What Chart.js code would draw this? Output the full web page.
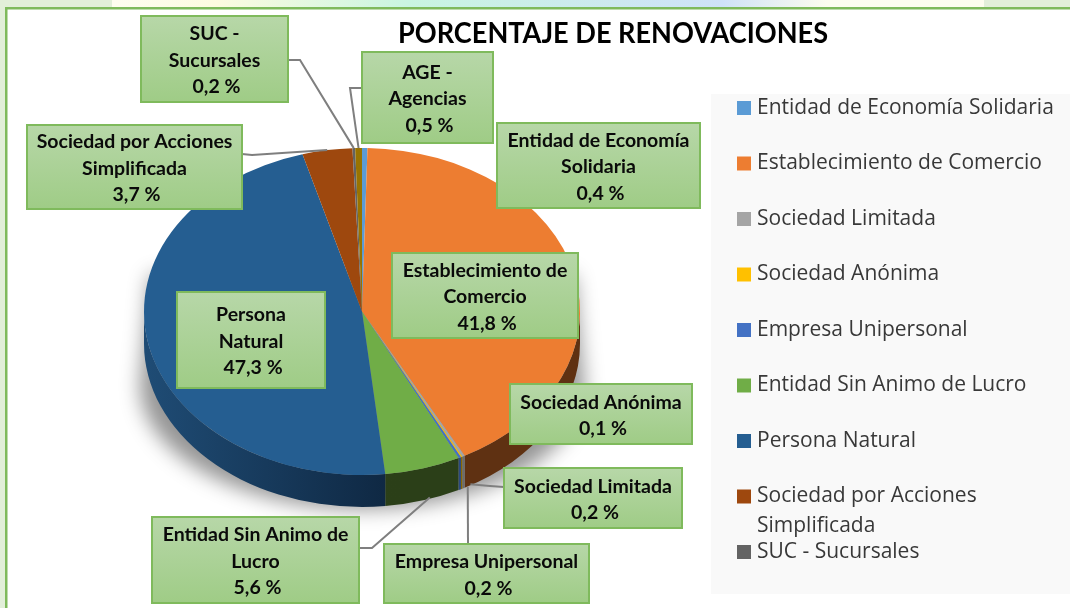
<!DOCTYPE html>
<html>
<head>
<meta charset="utf-8">
<style>html,body{margin:0;padding:0;background:#fff;overflow:hidden}#wrap{width:1070px;height:608px;position:relative}</style>
<script src="https://cdn.jsdelivr.net/npm/chart.js@4/dist/chart.umd.min.js"></script>
</head>
<body>
<div id="wrap"><canvas id="c" width="1070" height="608"></canvas></div>
<script>
const chartTitle = "PORCENTAJE DE RENOVACIONES";
const categories = ["Entidad de Economía Solidaria","Establecimiento de Comercio","Sociedad Limitada","Sociedad Anónima","Empresa Unipersonal","Entidad Sin Animo de Lucro","Persona Natural","Sociedad por Acciones Simplificada","SUC - Sucursales","AGE - Agencias"];
const values = [0.4,41.8,0.2,0.1,0.2,5.6,47.3,3.7,0.2,0.5];
const sliceColors = ["#5b9bd5","#ed7d31","#a5a5a5","#ffc000","#4472c4","#70ad47","#255e91","#9e480e","#636363","#997300"];
const wallLeft  = ["#3a638a","#5f3112","#6a6a6a","#8a6800","#2c4a80","#2e4219","#1f4c75","#5a2a08","#404040","#5c4500"];
const wallRight = ["#3a638a","#5f3112","#6a6a6a","#8a6800","#2c4a80","#2b3f18","#0e2640","#5a2a08","#404040","#5c4500"];
const calloutLines = [["Entidad de Economía","Solidaria"],["Establecimiento de","Comercio"],["Sociedad Limitada"],["Sociedad Anónima"],["Empresa Unipersonal"],["Entidad Sin Animo de","Lucro"],["Persona","Natural"],["Sociedad por Acciones","Simplificada"],["SUC -","Sucursales"],["AGE -","Agencias"]];
const calloutBoxes = [[497,123,203,85],[392,253,186,85],[504,468,178,60],[510,384,182,60],[384,544,205,59],[152,517,207,86],[177,292,148,96],[27,125,215,84],[141,16,147,86],[362,52,131,91]];
// leader paths: box anchor, elbow, then offset from slice rim
const leaderPaths = {2:[[504,487],[490,486],[7,28]],4:[[468,544],[468,544],[8,29]],5:[[359,548],[372,548],[7,29]],7:[[242,154],[252,155],[0,0]],8:[[288,60],[300,60],[0,0]],9:[[362,88],[350,88],[0,0]]};

const CX=362, RX=218, CY=311.5, RY=163.5, DEPTH=32, KY=RY/RX;

const plugin3d = {
  id:'plugin3d',
  afterLayout(chart){
    chart.chartArea = {left:CX-RX,right:CX+RX,top:CY-RX,bottom:CY+RX,width:2*RX,height:2*RX};
    const t = chart.titleBlock;
    t.left=398; t.right=828; t.top=34-t.options.font.size*0.6; t.bottom=t.top+40;
    const l = chart.legend;
    l.left=707; l.right=1070; l.top=63; l.bottom=608; l.width=363; l.height=545;
  },
  beforeDraw(chart){
    const c=chart.ctx;
    c.save();
    c.fillStyle='#fff'; c.fillRect(0,0,1070,608);
    c.fillStyle='#e2efd9'; c.fillRect(0,0,5,608);
    const g=c.createLinearGradient(112,0,984,0);
    g.addColorStop(0,'#fefdf0'); g.addColorStop(0.12,'#fdfbe0'); g.addColorStop(0.34,'#c9f5e1'); g.addColorStop(0.7,'#cfe2f8'); g.addColorStop(0.82,'#fdfdf0'); g.addColorStop(1,'#fdfdee');
    c.fillStyle='#e2efd9'; c.fillRect(0,0,1070,7);
    c.fillStyle=g; c.fillRect(112,0,872,7);
    c.fillStyle='#7fba5c'; c.fillRect(5,7,1065,2.5); c.fillRect(5,7,2.5,601);
    c.fillStyle='#f9f9f9'; c.fillRect(711,94,359,500);
    c.restore();
  },
  beforeDatasetsDraw(chart){
    const c=chart.ctx, arcs=chart.getDatasetMeta(0).data;
    // soft ground shadow only (shape itself is off canvas), tapering towards the top of the pie
    c.save();
    const off=3000;
    c.shadowColor='rgba(0,0,0,0.42)'; c.shadowBlur=20; c.shadowOffsetX=off;
    c.fillStyle='#000';
    c.beginPath();
    c.moveTo(CX-off-212,275);
    c.lineTo(CX-off-222,385);
    c.ellipse(CX-off,385,222,124,0,Math.PI,0,true);
    c.lineTo(CX-off+212,275);
    c.closePath(); c.fill();
    c.restore();
    // side wall, lower half only
    arcs.forEach((a,i)=>{
      const s=Math.max(a.startAngle,0), e=Math.min(a.endAngle,Math.PI);
      if(e<=s) return;
      const g=c.createLinearGradient(CX-RX,0,CX+40,0);
      g.addColorStop(0,wallLeft[i]); g.addColorStop(1,wallRight[i]);
      c.fillStyle=g;
      c.beginPath();
      c.ellipse(CX,CY,RX,RY,0,s,e);
      c.ellipse(CX,CY+DEPTH,RX,RY,0,e,s,true);
      c.closePath(); c.fill();
    });
    c.save();
    c.translate(CX,CY); c.scale(1,KY); c.translate(-CX,-CY);
  },
  afterDatasetsDraw(chart){
    const c=chart.ctx, arcs=chart.getDatasetMeta(0).data;
    c.restore();
    // leaders
    c.save();
    c.strokeStyle='#7f7f7f'; c.lineWidth=2;
    Object.keys(leaderPaths).forEach(k=>{
      const p=leaderPaths[k], a=arcs[k], m=(a.startAngle+a.endAngle)/2;
      const ex=CX+RX*Math.cos(m)+p[2][0], ey=CY+RY*Math.sin(m)+p[2][1];
      c.beginPath(); c.moveTo(p[0][0],p[0][1]); c.lineTo(p[1][0],p[1][1]); c.lineTo(ex,ey); c.stroke();
    });
    // callout boxes
    calloutBoxes.forEach((b,i)=>{
      const [x,y,w,h]=b;
      const g=c.createLinearGradient(0,y,0,y+h);
      g.addColorStop(0,'#b7d7a8'); g.addColorStop(1,'#9fcc86');
      c.fillStyle=g; c.fillRect(x,y,w,h);
      c.strokeStyle='#7fba5c'; c.lineWidth=2; c.strokeRect(x,y,w,h);
      const lines=calloutLines[i].concat([values[i].toFixed(1).replace('.',',')+' %']);
      c.fillStyle='#0a0a0a'; c.font='bold 19.5px Lato'; c.textAlign='center'; c.textBaseline='middle';
      const lh=26.5, top=y+h/2-lh*(lines.length-1)/2+1.5;
      lines.forEach((t,j)=>c.fillText(t,x+w/2+(j==lines.length-1?2:0),top+j*lh));
    });
    c.restore();
  },
  afterDraw(chart){
    const c=chart.ctx;
    c.save();
    c.fillStyle='#383838'; c.font=chart.options.plugins.legend.labels.font.size+'px "Open Sans"';
    c.textBaseline='middle'; c.textAlign='left';
    c.fillText('Simplificada',757,526);
    c.restore();
  }
};

new Chart(document.getElementById('c'),{
  type:'pie',
  data:{labels:categories,datasets:[{data:values,backgroundColor:sliceColors,borderWidth:0}]},
  options:{
    responsive:false,animation:false,
    plugins:{
      tooltip:{enabled:false},
      title:{display:true,text:chartTitle,color:'#000',padding:0,font:{family:'Lato',weight:'bold',size:28}},
      legend:{display:true,position:'right',align:'start',labels:{
        boxWidth:5,boxHeight:5,padding:34.5,color:'#383838',font:{family:'"Open Sans"',size:21},
        generateLabels(ch){
          return Chart.overrides.pie.plugins.legend.labels.generateLabels(ch).map(it=>{
            if(it.text==="Sociedad por Acciones Simplificada") it.text="Sociedad por Acciones";
            it.lineWidth=9; it.strokeStyle=it.fillStyle; it.lineJoin='miter';
            return it;
          });
        },
        filter(it){return it.text!=="AGE - Agencias";}
      }}
    }
  },
  plugins:[plugin3d]
});
</script>
</body>
</html>
